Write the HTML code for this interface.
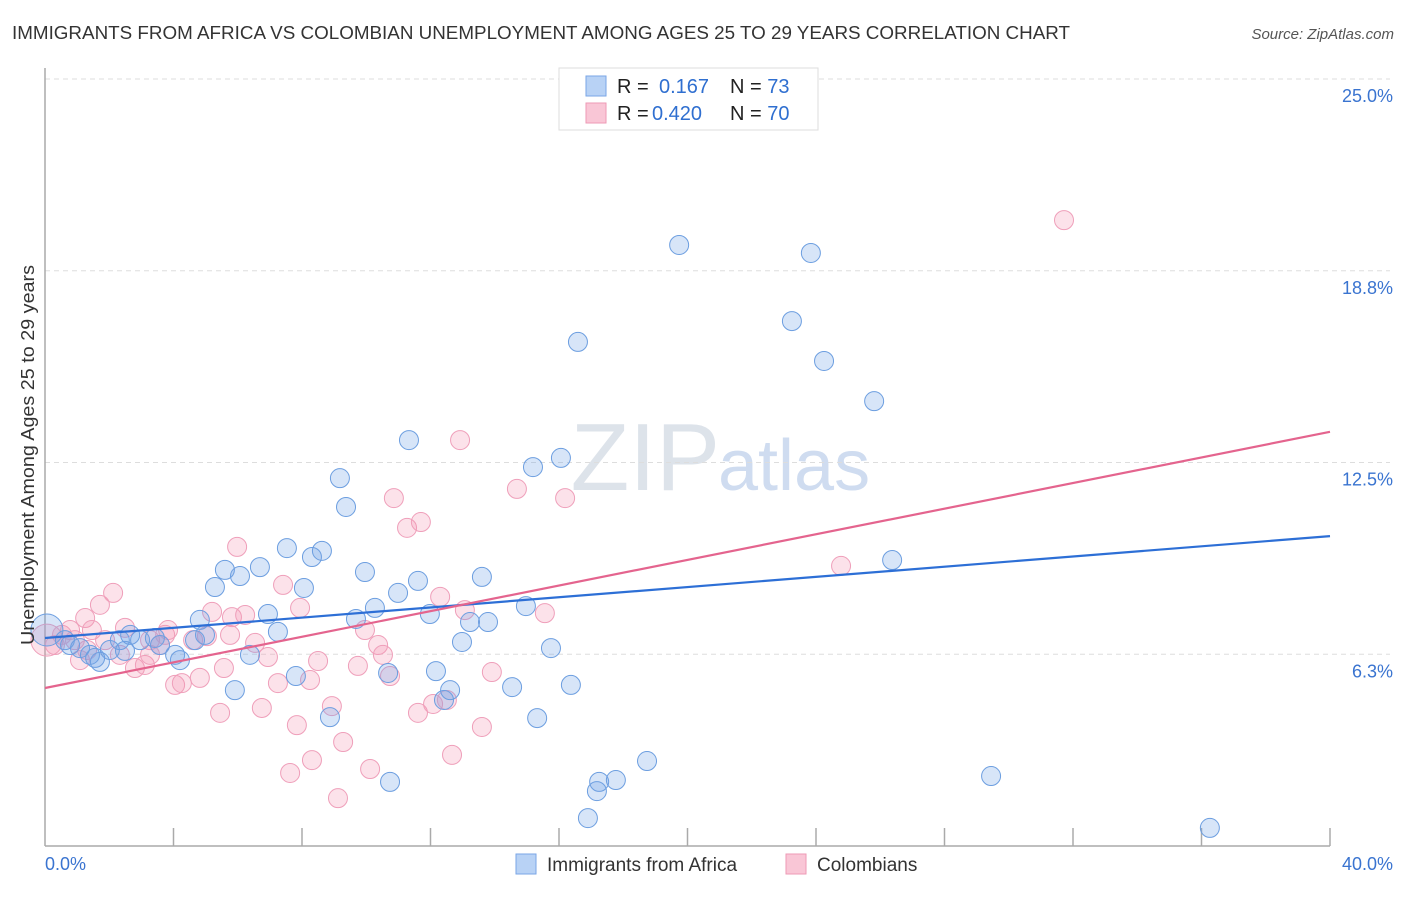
<!DOCTYPE html>
<html><head><meta charset="utf-8"><style>
body{margin:0;background:#fff;font-family:"Liberation Sans",sans-serif}
svg text{font-family:"Liberation Sans",sans-serif}
</style></head><body>
<svg id="chart" width="1406" height="892">
<text x="12" y="39" font-size="18" fill="#333" textLength="1058" lengthAdjust="spacingAndGlyphs">IMMIGRANTS FROM AFRICA VS COLOMBIAN UNEMPLOYMENT AMONG AGES 25 TO 29 YEARS CORRELATION CHART</text>
<text x="1394" y="39" font-size="15" fill="#555" font-style="italic" text-anchor="end">Source: ZipAtlas.com</text>
<text x="720" y="490" font-size="96" fill="#dde3ea" text-anchor="end" font-family="Liberation Serif">ZIP</text>
<text x="718" y="490" font-size="72" fill="#cfdcf0">atlas</text>
<g id="grid"></g><g id="axes"></g><g id="pts"></g><g id="lines"></g>
<text x="34" y="455" font-size="18" fill="#333" text-anchor="middle" textLength="380" lengthAdjust="spacingAndGlyphs" transform="rotate(-90 34 455)">Unemployment Among Ages 25 to 29 years</text>
<g>
<rect x="559" y="68" width="259" height="62" fill="#fff" stroke="#ddd"/>
<rect x="586" y="76" width="20" height="20" fill="#b8d2f5" stroke="#7aa6e6"/>
<rect x="586" y="103" width="20" height="20" fill="#f9c6d6" stroke="#ee9ab5"/>
<text x="617" y="93" font-size="20" fill="#222">R = <tspan fill="#2f6fd0" x="659">0.167</tspan><tspan x="730" fill="#222">N = </tspan><tspan fill="#2f6fd0">73</tspan></text>
<text x="617" y="120" font-size="20" fill="#222">R = <tspan fill="#2f6fd0" x="652">0.420</tspan><tspan x="730" fill="#222">N = </tspan><tspan fill="#2f6fd0">70</tspan></text>
</g>
<g>
<rect x="516" y="854" width="20" height="20" fill="#b8d2f5" stroke="#7aa6e6"/>
<text x="547" y="871" font-size="19" fill="#333">Immigrants from Africa</text>
<rect x="786" y="854" width="20" height="20" fill="#f9c6d6" stroke="#ee9ab5"/>
<text x="817" y="871" font-size="19" fill="#333">Colombians</text>
</g>
</svg>
<script>
const yTicks=[6.25,12.5,18.75,25];
const yTickLabels=["6.3%","12.5%","18.8%","25.0%"];
const blueX=[0.06,0.62,0.78,1.09,1.40,1.71,1.56,2.02,2.33,2.65,2.96,3.42,3.58,4.05,4.20,4.82,4.98,5.29,5.60,5.91,6.07,6.38,6.69,6.94,7.25,7.53,7.81,8.06,8.31,8.62,8.87,9.18,9.37,9.68,9.96,10.27,10.68,10.74,10.99,11.33,11.61,11.98,12.17,12.42,12.61,12.98,13.23,13.60,13.79,14.54,14.97,15.19,15.32,15.75,16.06,16.37,16.59,16.90,17.18,17.25,17.77,18.74,19.74,23.25,23.84,24.25,25.81,26.37,29.45,36.26,4.67,2.49];
const blueY=[7.04,6.71,6.55,6.45,6.23,6.00,6.13,6.39,6.71,6.88,6.71,6.78,6.55,6.23,6.06,7.37,6.88,8.44,9.00,5.08,8.80,6.23,9.09,7.56,6.98,9.71,5.54,8.41,9.42,9.62,4.20,11.99,11.05,7.40,8.93,7.76,5.64,2.09,8.25,13.23,8.64,7.56,5.70,4.76,5.08,6.65,7.30,8.77,7.30,5.18,7.82,12.35,4.17,6.45,12.65,5.25,16.43,0.91,1.79,2.09,2.15,2.77,19.59,17.11,19.33,15.81,14.50,9.32,2.28,0.59,6.71,6.36];
const pinkX=[0.06,0.31,0.53,0.78,0.93,1.25,1.46,1.71,2.12,1.87,2.49,2.80,3.11,3.27,3.58,3.74,3.83,4.05,4.26,4.61,4.82,5.20,5.45,5.57,5.82,5.98,6.23,6.54,6.75,6.94,7.25,7.41,7.63,7.84,7.94,8.25,8.31,8.50,8.93,9.12,9.28,9.74,9.96,10.12,10.37,10.52,10.74,10.86,11.27,11.61,11.70,12.08,12.30,12.51,12.67,12.92,13.07,13.60,13.91,14.69,15.56,16.19,24.78,31.72,3.27,1.31,1.09,5.04,5.76,2.33];
const pinkY=[6.71,6.55,6.88,7.04,6.71,7.43,7.04,7.86,8.25,6.71,7.11,5.80,5.90,6.71,6.55,6.88,7.04,5.25,5.31,6.71,5.48,7.63,4.34,5.80,7.46,9.75,7.53,6.62,4.50,6.16,5.31,8.51,2.38,3.94,7.76,5.41,2.80,6.03,4.56,1.56,3.39,5.87,7.04,2.51,6.55,6.23,5.54,11.34,10.37,4.34,10.56,4.63,8.12,4.76,2.97,13.23,7.69,3.88,5.67,11.64,7.59,11.34,9.13,20.40,6.23,6.39,6.06,6.84,6.88,6.23];
const blueTrend=[6.78,10.1];
const pinkTrend=[5.15,13.5];
const NS="http://www.w3.org/2000/svg";
const X0=45,X1=1330,Y0=846,Y1=79;
const sx=v=>X0+(v/40)*(X1-X0);
const sy=v=>Y0-(v/25)*(Y0-Y1);
function mk(tag,attrs,parent){const e=document.createElementNS(NS,tag);for(const k in attrs)e.setAttribute(k,attrs[k]);document.getElementById(parent).appendChild(e);return e;}
yTicks.forEach((t,i)=>{
  const g=mk('line',{x1:X0,x2:X1+60,y1:sy(t),y2:sy(t),stroke:'#ddd','stroke-dasharray':'5,4'},'grid');
  
  
  const l=mk('text',{x:1393,y:sy(t)+23,'font-size':18,fill:'#3a74d0','text-anchor':'end'},'grid');
  l.textContent=yTickLabels[i];
  
  
});
const ax=mk('line',{x1:X0,x2:X0,y1:68,y2:Y0,stroke:'#aaa','stroke-width':1.5},'axes');


const bx=mk('line',{x1:X0,x2:X1,y1:Y0,y2:Y0,stroke:'#aaa','stroke-width':1.5},'axes');


for(let i=1;i<=10;i++){const t=mk('line',{x1:sx(i*4),x2:sx(i*4),y1:Y0-18,y2:Y0,stroke:'#aaa','stroke-width':1.5},'axes');

}
const xl=mk('text',{x:45,y:870,'font-size':18,fill:'#3a74d0'},'axes');xl.textContent='0.0%';


const xr=mk('text',{x:1393,y:870,'font-size':18,fill:'#3a74d0','text-anchor':'end'},'axes');xr.textContent='40.0%';


function pts(xs,ys,fill,stroke,name){xs.forEach((x,i)=>{const c=mk('circle',{cx:sx(x),cy:sy(ys[i]),r:i===0?16:9.5,fill:fill,stroke:stroke,'stroke-width':1},'pts');

});}
pts(pinkX,pinkY,'rgba(244,150,180,0.28)','#ef9fba','point-colombians');
pts(blueX,blueY,'rgba(110,160,230,0.28)','#6c9ee0','point-africa');
const bl=mk('line',{x1:sx(0),y1:sy(blueTrend[0]),x2:sx(40),y2:sy(blueTrend[1]),stroke:'#2d6fd6','stroke-width':2.2},'lines');


const pl=mk('line',{x1:sx(0),y1:sy(pinkTrend[0]),x2:sx(40),y2:sy(pinkTrend[1]),stroke:'#e4648e','stroke-width':2.2},'lines');


</script>
</body></html>
